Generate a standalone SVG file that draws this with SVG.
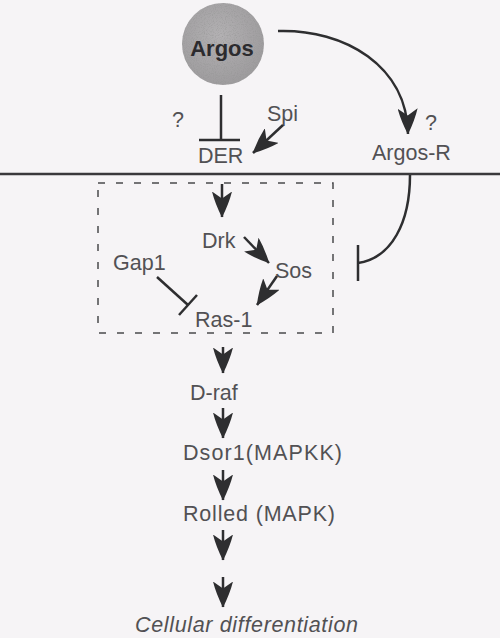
<svg xmlns="http://www.w3.org/2000/svg" width="500" height="638" viewBox="0 0 500 638">
<defs>
<marker id="ah" markerUnits="userSpaceOnUse" markerWidth="26" markerHeight="20" viewBox="0 0 26 20" refX="25.5" refY="10" orient="auto">
<path d="M26,10 Q12,3 0,0 L7,10 L0,20 Q12,17 26,10 Z" fill="#2e2e30"/>
</marker>
<radialGradient id="g" cx="0.45" cy="0.4" r="0.65">
<stop offset="0" stop-color="#b3b1b3"/>
<stop offset="1" stop-color="#9c9a9c"/>
</radialGradient>
<filter id="speck" x="0" y="0" width="1" height="1">
<feTurbulence type="fractalNoise" baseFrequency="0.9" numOctaves="2" seed="3" result="n"/>
<feColorMatrix in="n" type="matrix" values="0 0 0 0 0.3  0 0 0 0 0.3  0 0 0 0 0.3  0 0 0 1.6 -0.75" result="d"/>
<feComposite in="d" in2="SourceGraphic" operator="in" result="dd"/>
<feMerge><feMergeNode in="SourceGraphic"/><feMergeNode in="dd"/></feMerge>
</filter>
</defs>
<style>
.t{font-family:"Liberation Sans",Arial,sans-serif;font-size:21.5px;fill:#525154}
.ln{stroke:#2e2e30;stroke-width:2.5;fill:none}
.ar{stroke:#2e2e30;stroke-width:2.5;fill:none;marker-end:url(#ah)}
</style>
<rect width="500" height="638" fill="#f6f4f6"/>

<g id="membrane"><line x1="0" y1="174" x2="500" y2="174" stroke="#3a393c" stroke-width="2.5"/></g>

<g id="argos">
<circle cx="223" cy="44" r="41" fill="url(#g)" filter="url(#speck)"/>
<text x="222" y="56" text-anchor="middle" font-family="'Liberation Sans',Arial,sans-serif" font-size="22" font-weight="bold" fill="#2c2b2e">Argos</text>
</g>
<g id="q1"><text class="t" x="172" y="127" font-size="20">?</text></g>
<g id="spi"><text class="t" x="267" y="121">Spi</text></g>
<g id="der"><text class="t" x="198" y="163">DER</text></g>
<g id="q2"><text class="t" x="425" y="130" font-size="20">?</text></g>
<g id="argosR"><text class="t" x="372" y="160">Argos-R</text></g>

<g id="complex"><rect x="98" y="183" width="235" height="150" fill="none" stroke="#4a494c" stroke-width="1.5" stroke-dasharray="7,11"/></g>
<g id="drk"><text class="t" x="202" y="248">Drk</text></g>
<g id="sos"><text class="t" x="275" y="278">Sos</text></g>
<g id="gap1"><text class="t" x="113" y="270">Gap1</text></g>
<g id="ras1"><text class="t" x="195" y="327">Ras-1</text></g>
<g id="draf"><text class="t" x="190" y="400">D-raf</text></g>
<g id="dsor1"><text class="t" x="183" y="460" textLength="159" lengthAdjust="spacing">Dsor1(MAPKK)</text></g>
<g id="rolled"><text class="t" x="183" y="521" textLength="152" lengthAdjust="spacing">Rolled (MAPK)</text></g>
<g id="diff"><text class="t" x="135" y="632" font-style="italic" textLength="223" lengthAdjust="spacing">Cellular differentiation</text></g>

<g id="connectors">
<line class="ln" x1="221" y1="95" x2="221" y2="140"/>
<line class="ln" x1="199" y1="140" x2="240" y2="140"/>
<line class="ar" x1="283" y1="125" x2="253" y2="153"/>
<path class="ar" d="M278,31 C345,29 407,66 408,134"/>
<path class="ln" d="M410,175 C410,222 392,258 358,263"/>
<line class="ln" x1="358" y1="245" x2="358" y2="281"/>
<line class="ar" x1="222" y1="184" x2="222" y2="217"/>
<line class="ar" x1="244" y1="237" x2="269" y2="263"/>
<line class="ar" x1="277" y1="276" x2="257" y2="305"/>
<line class="ln" x1="157" y1="277" x2="188" y2="305"/>
<line class="ln" x1="179" y1="315" x2="197" y2="295"/>
<line class="ar" x1="223" y1="347" x2="223" y2="373"/>
<line class="ar" x1="223" y1="408" x2="223" y2="438"/>
<line class="ar" x1="223" y1="470" x2="223" y2="500"/>
<line class="ar" x1="223" y1="530" x2="223" y2="560"/>
<line class="ar" x1="223" y1="577" x2="223" y2="607"/>
</g>
</svg>
